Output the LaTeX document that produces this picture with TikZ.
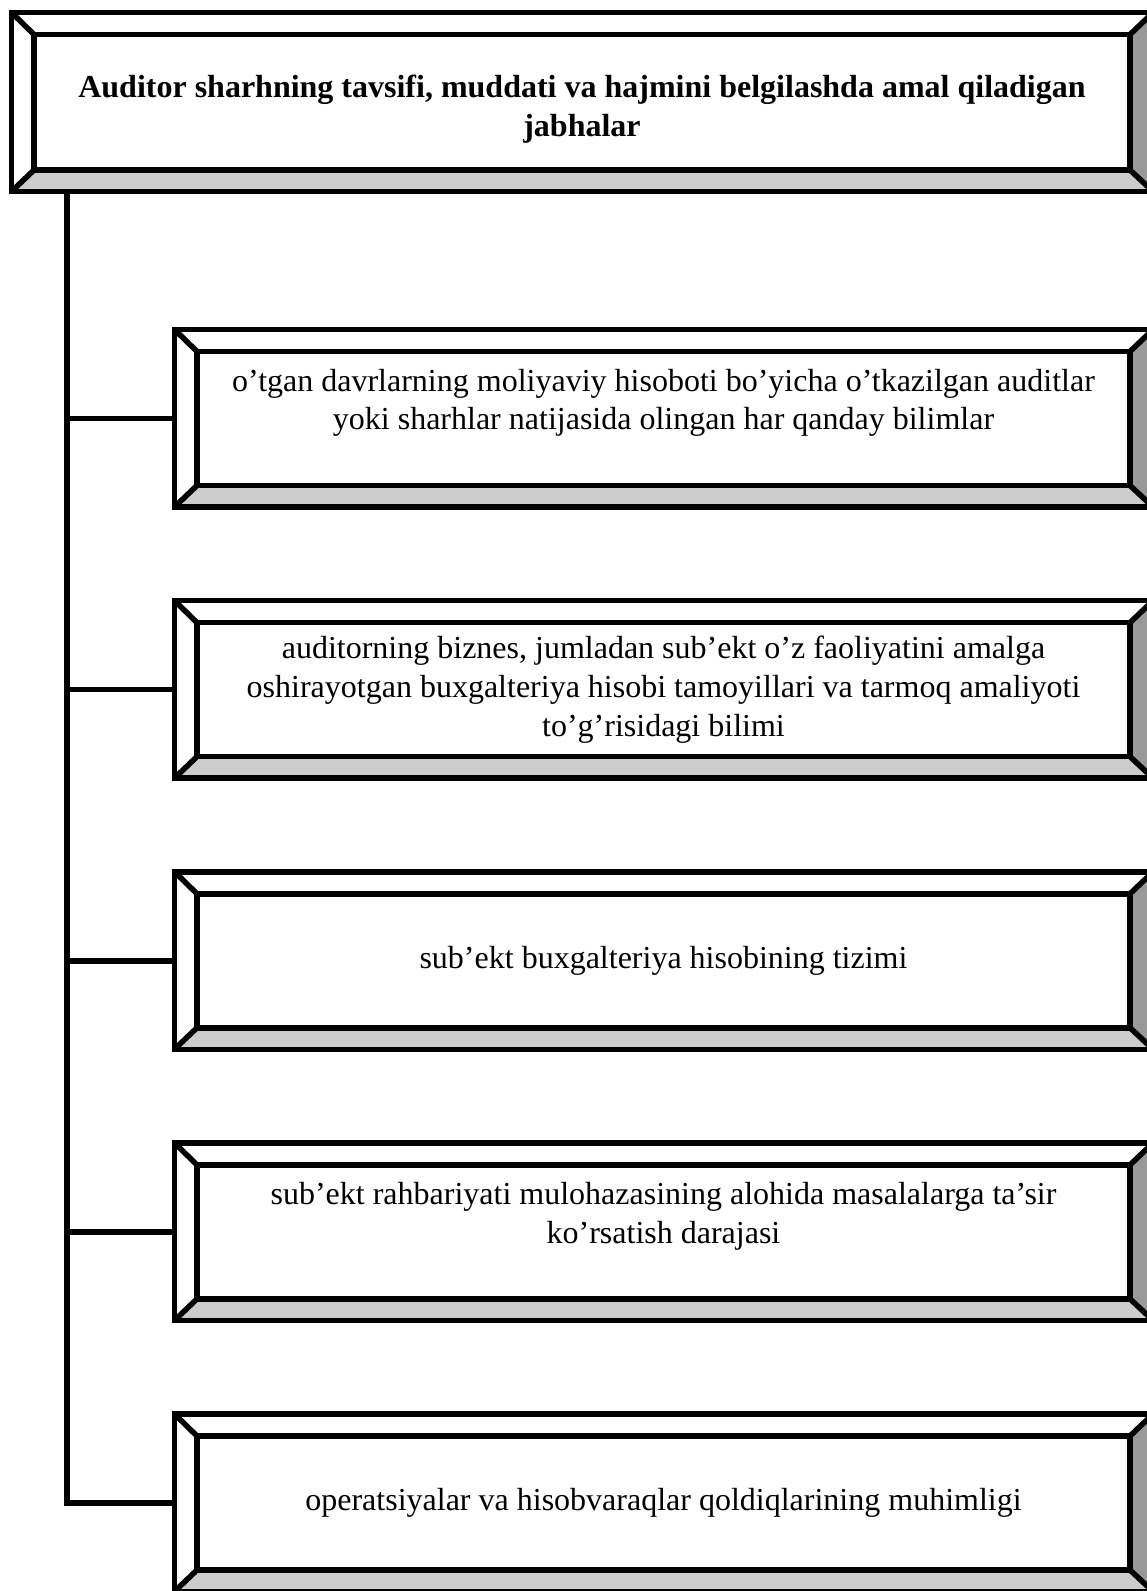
\documentclass[tikz,border=0pt]{standalone}
\usepackage{fontspec}
\setmainfont{Liberation Serif}
\usepackage{tikz}
\usetikzlibrary{
    calc,
    backgrounds
}

\tikzset{
    inbox/.style={draw, fill=white, line width=5.5pt, inner sep=0pt, outer sep=0pt,
        minimum width=933pt, minimum height=134pt, align=center,
        font=\fontsize{32}{38.6}\selectfont},
    edge/.style={line width=5.5pt},
}

\begin{document}
\begin{tikzpicture}[x=1pt,y=-1pt]
\useasboundingbox (0,0) rectangle (1147,1591);
\begin{scope}[on background layer]
\fill[white] (0,0) rectangle (1147,1591);
\end{scope}
% heading
\node[inbox, minimum width=1096pt, minimum height=135.5pt,
      font=\bfseries\fontsize{32}{38.6}\selectfont] (head) at (582,102.25)
    {\rule{0pt}{36pt}Auditor sharhning tavsifi, muddati va hajmini belgilashda amal qiladigan\\ jabhalar};
% items
\node[inbox] (b1) at (663.5,418.5)
    {o’tgan davrlarning moliyaviy hisoboti bo’yicha o’tkazilgan auditlar\\ yoki sharhlar natijasida olingan har qanday bilimlar\\ ~};
\node[inbox] (b2) at (663.5,689.6)
    {auditorning biznes, jumladan sub’ekt o’z faoliyatini amalga\\ oshirayotgan buxgalteriya hisobi tamoyillari va tarmoq amaliyoti\\ to’g’risidagi bilimi};
\node[inbox] (b3) at (663.5,960.75)
    {sub’ekt buxgalteriya hisobining tizimi};
\node[inbox] (b4) at (663.5,1231.9)
    {sub’ekt rahbariyati mulohazasining alohida masalalarga ta’sir\\ ko’rsatish darajasi\\ ~};
\node[inbox] (b5) at (663.5,1503)
    {operatsiyalar va hisobvaraqlar qoldiqlarining muhimligi};

% bevel frames
\foreach \n in {head,b1,b2,b3,b4,b5}{
    \coordinate (\n-nw) at ($(\n.north west)+(-22.5,-22)$);
    \coordinate (\n-ne) at ($(\n.north east)+(23,-22)$);
    \coordinate (\n-se) at ($(\n.south east)+(23,21.5)$);
    \coordinate (\n-sw) at ($(\n.south west)+(-22.5,21.5)$);
    \begin{scope}[on background layer]
    \fill[black!20] (\n-sw) -- (\n-se) -- (\n.south east) -- (\n.south west) -- cycle;
    \fill[black!40] (\n-se) -- (\n-ne) -- (\n.north east) -- (\n.south east) -- cycle;
    \end{scope}
    \draw[edge] (\n-nw) rectangle (\n-se);
    \draw[edge] (\n-nw) -- (\n.north west) (\n-ne) -- (\n.north east)
        (\n-se) -- (\n.south east) (\n-sw) -- (\n.south west);
}

% connectors
\coordinate (trunk) at ($(head-sw)+(55.5,0)$);
\draw[edge] (trunk) |- (b5-sw |- b5.west);
\foreach \n in {b1,b2,b3,b4}
    \draw[edge] (trunk |- \n.west) -- (\n-sw |- \n.west);
\end{tikzpicture}
\end{document}
